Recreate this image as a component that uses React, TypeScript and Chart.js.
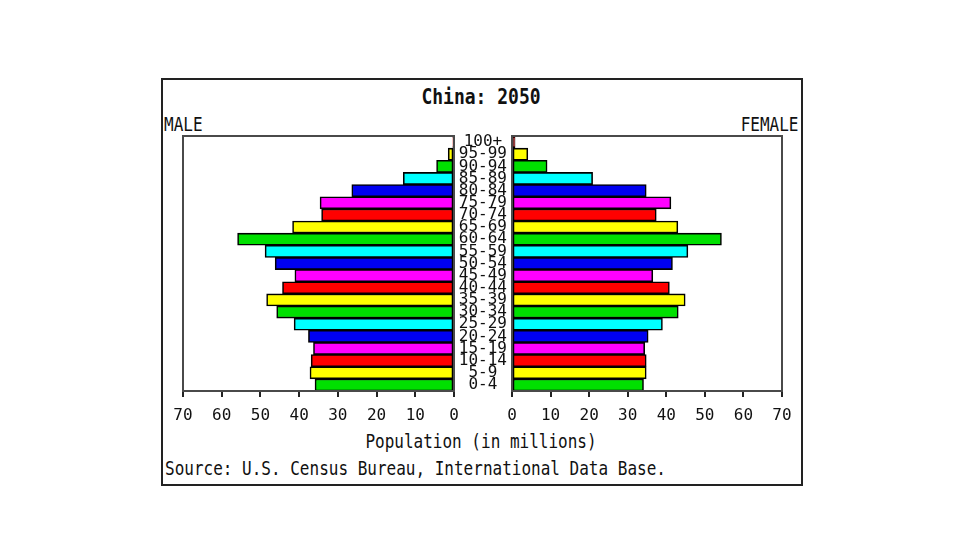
import React, { useEffect, useRef } from "react";
import { Chart, registerables } from "chart.js";

Chart.register(...registerables);

// ---- Data (bottom to top: youngest to oldest) ----
const ageGroups = [
  "0-4", "5-9", "10-14", "15-19", "20-24", "25-29", "30-34", "35-39", "40-44", "45-49",
  "50-54", "55-59", "60-64", "65-69", "70-74", "75-79", "80-84", "85-89", "90-94", "95-99", "100+",
];
const maleValues = [
  35.9, 37.2, 36.9, 36.3, 37.6, 41.3, 45.8, 48.4, 44.3, 41.1,
  46.2, 48.8, 55.9, 41.7, 34.2, 34.6, 26.4, 13.1, 4.5, 1.5, 0.3,
];
const femaleValues = [
  34.1, 34.8, 34.8, 34.4, 35.3, 39.0, 43.1, 44.9, 40.8, 36.5,
  41.6, 45.6, 54.3, 43.0, 37.4, 41.2, 34.8, 20.9, 9.1, 4.1, 0.8,
];
const palette = ["#00e000", "#ffff00", "#ff0000", "#ff00ff", "#0000f0", "#00ffff"];
const xMin = 0;
const xMax = 70;
const xStep = 10;

const titleText = "China: 2050";
const maleLabel = "MALE";
const femaleLabel = "FEMALE";
const axisTitle = "Population (in millions)";
const sourceText = "Source: U.S. Census Bureau, International Data Base.";

const MONO = "'DejaVu Sans Mono', 'Liberation Mono', monospace";
const barColors = ageGroups.map((_, i) => palette[i % palette.length]);

const framePlugin = {
  id: "frame",
  afterDatasetsDraw(chart: any) {
    const { ctx, chartArea: a } = chart;
    ctx.save();
    ctx.strokeStyle = "#4a4a4a";
    ctx.lineWidth = 2;
    ctx.strokeRect(a.left, a.top, a.right - a.left, a.bottom - a.top);
    ctx.restore();
  },
};

function xScale(reverse: boolean) {
  return {
    type: "linear",
    min: xMin,
    max: xMax,
    reverse,
    position: "bottom",
    afterFit: (s: any) => {
      s.height = 30;
    },
    grid: {
      display: true,
      drawOnChartArea: false,
      drawTicks: true,
      tickLength: 6,
      tickColor: "#222",
      lineWidth: 2,
    },
    border: { display: false },
    ticks: {
      stepSize: xStep,
      padding: 9,
      color: "#111",
      font: { family: MONO, size: 16 },
      maxRotation: 0,
    },
  };
}

function makeDataset(values: number[]) {
  return {
    data: values,
    backgroundColor: barColors,
    borderColor: "#000",
    borderWidth: 1.6,
    borderSkipped: false,
    barPercentage: 1,
    categoryPercentage: 1,
  };
}

// chart areas: left 183.3..453.5, right 511.7..781.7, top 135.7, bottom 391
const PAD = 24;
const TOP = 135.7 - PAD;
const H = 391 + 30 + 9 - TOP;
const LEFT_X = 183.3 - PAD;
const W_LEFT = 454.5 + PAD - LEFT_X;
const Y_AXIS_W = 58;
const RIGHT_PAD_L = 4;
const RIGHT_X = 511.7 - Y_AXIS_W - RIGHT_PAD_L;
const W_RIGHT = 781.7 + PAD - RIGHT_X;

export default function App() {
  const leftRef = useRef<HTMLCanvasElement>(null);
  const rightRef = useRef<HTMLCanvasElement>(null);

  useEffect(() => {
    const left = new Chart(leftRef.current as HTMLCanvasElement, {
      type: "bar",
      data: { labels: ageGroups, datasets: [makeDataset(maleValues) as any] },
      options: {
        indexAxis: "y",
        animation: false,
        responsive: false,
        maintainAspectRatio: false,
        layout: { padding: { left: PAD, right: PAD, top: PAD, bottom: 9 } },
        plugins: { legend: { display: false }, tooltip: { enabled: false }, title: { display: false } },
        scales: {
          x: xScale(true) as any,
          y: { type: "category", reverse: true, display: false } as any,
        },
      },
      plugins: [framePlugin],
    });

    const right = new Chart(rightRef.current as HTMLCanvasElement, {
      type: "bar",
      data: { labels: ageGroups, datasets: [makeDataset(femaleValues) as any] },
      options: {
        indexAxis: "y",
        animation: false,
        responsive: false,
        maintainAspectRatio: false,
        layout: { padding: { left: RIGHT_PAD_L, right: PAD, top: PAD, bottom: 9 } },
        plugins: { legend: { display: false }, tooltip: { enabled: false }, title: { display: false } },
        scales: {
          x: xScale(false) as any,
          y: {
            type: "category",
            reverse: true,
            position: "left",
            afterFit: (s: any) => {
              s.width = Y_AXIS_W;
            },
            grid: { display: false, drawTicks: false },
            border: { display: false },
            ticks: {
              autoSkip: false,
              crossAlign: "center",
              padding: 5,
              color: "#111",
              font: { family: MONO, size: 16 },
            },
          } as any,
        },
      },
      plugins: [framePlugin],
    });

    return () => {
      left.destroy();
      right.destroy();
    };
  }, []);

  const text = (
    content: string,
    style: React.CSSProperties,
    transform: string
  ) => (
    <div
      style={{
        position: "absolute",
        fontFamily: MONO,
        fontSize: 16,
        lineHeight: "16px",
        whiteSpace: "nowrap",
        color: "#111",
        transform,
        ...style,
      }}
    >
      {content}
    </div>
  );

  return (
    <div
      style={{
        position: "fixed",
        left: 0,
        top: 0,
        width: 960,
        height: 540,
        background: "#fff",
        overflow: "hidden",
      }}
    >
      <div
        style={{
          position: "absolute",
          left: 161,
          top: 78,
          width: 642,
          height: 408,
          border: "2px solid #222",
          boxSizing: "border-box",
        }}
      />
      {text(
        titleText,
        { left: 481, top: 97, fontWeight: "bold", fontSize: 18, lineHeight: "18px" },
        "translate(-50%, -50%) scaleY(1.15)"
      )}
      {text(maleLabel, { left: 164, top: 125 }, "translate(0, -50%) scaleY(1.25)")}
      {text(femaleLabel, { right: 960 - 798.5, top: 125 }, "translate(0, -50%) scaleY(1.25)")}
      {text(axisTitle, { left: 481, top: 441.5 }, "translate(-50%, -50%) scaleY(1.2)")}
      {text(sourceText, { left: 165, top: 469 }, "translate(0, -50%) scaleY(1.25)")}
      <canvas
        ref={leftRef}
        width={Math.round(W_LEFT)}
        height={Math.round(H)}
        style={{ position: "absolute", left: LEFT_X, top: TOP, width: Math.round(W_LEFT), height: Math.round(H) }}
      />
      <canvas
        ref={rightRef}
        width={Math.round(W_RIGHT)}
        height={Math.round(H)}
        style={{ position: "absolute", left: RIGHT_X, top: TOP, width: Math.round(W_RIGHT), height: Math.round(H) }}
      />
    </div>
  );
}
